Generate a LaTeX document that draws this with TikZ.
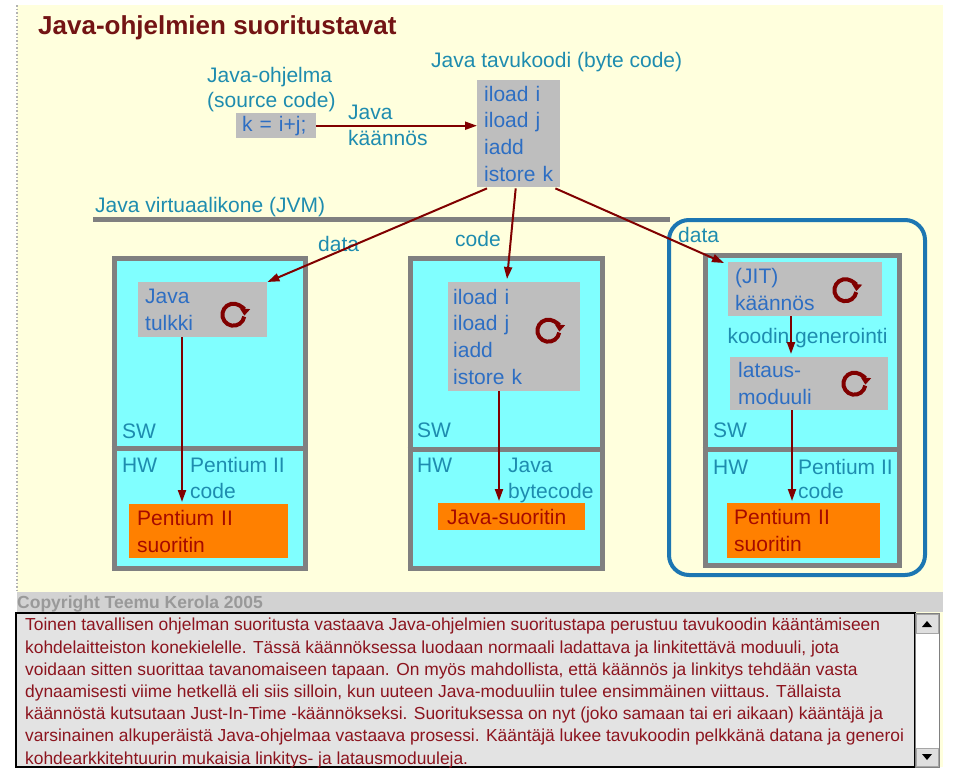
\documentclass[tikz,border=0pt]{standalone}
\usepackage{fontspec}
\setmainfont{Liberation Sans}
\usepackage{tikz}
\usetikzlibrary{arrows.meta, calc}

\definecolor{kelta}{RGB}{255,255,221}
\definecolor{syaani}{RGB}{128,255,255}
\definecolor{harmaa}{RGB}{190,190,190}
\definecolor{reuna}{RGB}{128,128,128}
\definecolor{oranssi}{RGB}{255,128,0}
\definecolor{sininen}{RGB}{28,118,178}
\definecolor{tummapuna}{RGB}{128,0,0}
\definecolor{otsikko}{RGB}{115,20,20}
\definecolor{selite}{RGB}{30,140,175}
\definecolor{koodi}{RGB}{45,110,195}
\definecolor{suoritin}{RGB}{165,10,0}
\definecolor{leipa}{RGB}{140,20,30}

\begin{document}
\begin{tikzpicture}[
    x=1pt, y=-1pt,
    font=\fontsize{21}{26.7}\selectfont,
    lbl/.style={anchor=base west, inner sep=0, text=selite},
    gbox/.style={anchor=north west, fill=harmaa, inner xsep=7pt, inner ysep=0, align=left, text=koodi},
    obox/.style={anchor=north west, fill=oranssi, inner xsep=8pt, inner ysep=0, align=left, text=suoritin},
    sarake/.style={anchor=north west, draw=reuna, fill=syaani, line width=5pt, inner sep=0},
    arr/.style={-{Triangle[length=12pt, width=8pt]}, line width=2pt, tummapuna},
    kierto/.pic={\draw[line width=4pt, tummapuna, -{Triangle[length=7pt, width=10pt]}]
        (10:11) arc[start angle=10, end angle=365, radius=11];},
]
\useasboundingbox (0,0) rectangle (960,771);
\fill[white] (0,0) rectangle (960,771);
\fill[kelta] (17,5) rectangle (943,767);
\draw[gray!60, line width=1.5pt, dotted] (17,5) -- (17,592);

% otsikko
\node[anchor=base west, inner sep=0, text=otsikko, font=\fontsize{26}{30}\selectfont\bfseries] (title) at (38,34) {Java-ohjelmien suoritustavat};

% lahdekoodi ja tavukoodi
\node[lbl] (ohjelma) at (207,82.5) {Java-ohjelma};
\node[lbl] (source) at (207,107.5) {(source code)};
\node[gbox, text width=68pt, minimum height=25pt, inner xsep=6pt] (src) at (236,113) {k = i+j;};
\node[lbl] (kjava) at (348,119.5) {Java};
\node[lbl] (kkaan) at (348,145.5) {käännös};
\node[lbl] (tavu) at (431,67.5) {Java tavukoodi (byte code)};
\node[gbox, text width=69pt, minimum height=107pt] (bc) at (477,80) {iload i\\iload j\\iadd\\istore k};

% JVM
\node[lbl] (jvm) at (95,212.5) {Java virtuaalikone (JVM)};
\draw[reuna, line width=5pt] (93,219.5) -- (670,219.5);
\draw[sininen, line width=4pt, rounded corners=20pt] (669,220) rectangle (925,575);

% sarakkeet
\node[sarake, minimum width=191pt, minimum height=310pt] (vasen) at (111.5,255.5) {};
\node[sarake, minimum width=192pt, minimum height=310pt] (keski) at (407.5,255.5) {};
\node[sarake, minimum width=194pt, minimum height=310pt] (oikea) at (702.5,252.5) {};
\draw[reuna, line width=5pt] (vasen.west |- 0,448) -- (vasen.east |- 0,448);
\draw[reuna, line width=5pt] (keski.west |- 0,449) -- (keski.east |- 0,449);
\draw[reuna, line width=5pt] (oikea.west |- 0,449) -- (oikea.east |- 0,449);

% tulkki
\node[gbox, text width=115pt, minimum height=55pt] (tulkki) at (138,282) {Java\\tulkki};
\node[lbl] (sw1) at (122,438.5) {SW};
\node[lbl] (hw1) at (122,472) {HW};
\node[lbl] (pc1a) at (190,472) {Pentium II};
\node[lbl] (pc1b) at (190,498) {code};
\node[obox, text width=143pt, minimum height=54pt] (pen1) at (129,504) {Pentium II\\suoritin};

% bytecode-suoritin
\node[gbox, text width=122pt, minimum height=109pt, inner xsep=5pt] (kd) at (448,282) {iload i\\iload j\\iadd\\istore k};
\node[lbl] (sw2) at (417,437.5) {SW};
\node[lbl] (hw2) at (417,472) {HW};
\node[lbl] (jba) at (508,472) {Java};
\node[lbl] (jbb) at (508,498) {bytecode};
\node[obox, text width=129pt, minimum height=27pt, inner xsep=9pt] (jsuo) at (438,503) {Java-suoritin};

% JIT
\node[gbox, text width=140pt, minimum height=54pt] (jit) at (728,262) {(JIT)\\käännös};
\node[lbl, anchor=base] (gen) at (807.5,343) {koodin generointi};
\node[gbox, text width=142pt, minimum height=53pt, inner xsep=8pt] (lataus) at (730,357) {lataus-\\moduuli};
\node[lbl] (sw3) at (713,437.5) {SW};
\node[lbl] (hw3) at (713,474) {HW};
\node[lbl] (pc3a) at (798,474) {Pentium II};
\node[lbl] (pc3b) at (798,498) {code};
\node[obox, text width=139pt, minimum height=55pt, inner xsep=7pt] (pen3) at (727,503) {Pentium II\\suoritin};

\pic at ($(tulkki.east)+(-34,5)$) {kierto};
\pic at ($(kd.east)+(-32,-6)$) {kierto};
\pic at ($(jit.east)+(-37,1)$) {kierto};
\pic at ($(lataus.east)+(-34,0)$) {kierto};

% nuolien selitteet
\node[lbl] (d1) at (318,251) {data};
\node[lbl] (c2) at (455,246) {code};
\node[lbl] (d3) at (678,242) {data};

% nuolet
\draw[arr] (src.east) -- (src.east -| bc.west);
\draw[arr] ($(bc.south west)+(10,1)$) -- (tulkki.north east);
\draw[arr] ($(bc.south)+(-3,1)$) -- ($(kd.north west)+(59,-3)$);
\draw[arr] ($(bc.south east)+(-5,1)$) -- ($(jit.north west)+(-4,1)$);
\draw[arr] ($(tulkki.south west)+(44,0)$) -- ($(pen1.north west)+(53,-2)$);
\draw[arr] ($(kd.south west)+(51,0)$) -- ($(jsuo.north west)+(61,-2)$);
\draw[arr] ($(jit.south west)+(63,0)$) -- ($(lataus.north west)+(61,-3)$);
\draw[arr] ($(lataus.south west)+(62,0)$) -- ($(pen3.north west)+(65,-2)$);

% alaosa
\fill[gray!35] (17,592) rectangle (943,612);
\node[anchor=base west, inner sep=0, text=gray!80, font=\fontsize{17.5}{20}\selectfont\bfseries] (copy) at (17,608) {Copyright Teemu Kerola 2005};
\draw[black, line width=1.3pt, fill=gray!22] (16,613) rectangle (915,767);
\draw[gray, fill=white] (915,613) rectangle (939,767);
\draw[gray!70, fill=gray!25] (916,614) rectangle (938,633);
\draw[gray!70, fill=gray!25] (916,748) rectangle (938,766);
\fill[black] (922,627) -- (932,627) -- (927,621) -- cycle;
\fill[black] (922,754) -- (932,754) -- (927,760) -- cycle;
\node[anchor=north west, inner sep=0, align=left, text=leipa, font=\fontsize{17.4}{22.2}\selectfont] (teksti) at (25,618)
{Toinen tavallisen ohjelman suoritusta vastaava Java-ohjelmien suoritustapa perustuu tavukoodin kääntämiseen\\
kohdelaitteiston konekielelle. Tässä käännöksessa luodaan normaali ladattava ja linkitettävä moduuli, jota\\
voidaan sitten suorittaa tavanomaiseen tapaan. On myös mahdollista, että käännös ja linkitys tehdään vasta\\
dynaamisesti viime hetkellä eli siis silloin, kun uuteen Java-moduuliin tulee ensimmäinen viittaus. Tällaista\\
käännöstä kutsutaan Just-In-Time -käännökseksi. Suorituksessa on nyt (joko samaan tai eri aikaan) kääntäjä ja\\
varsinainen alkuperäistä Java-ohjelmaa vastaava prosessi. Kääntäjä lukee tavukoodin pelkkänä datana ja generoi\\
kohdearkkitehtuurin mukaisia linkitys- ja latausmoduuleja.};

\end{tikzpicture}
\end{document}
